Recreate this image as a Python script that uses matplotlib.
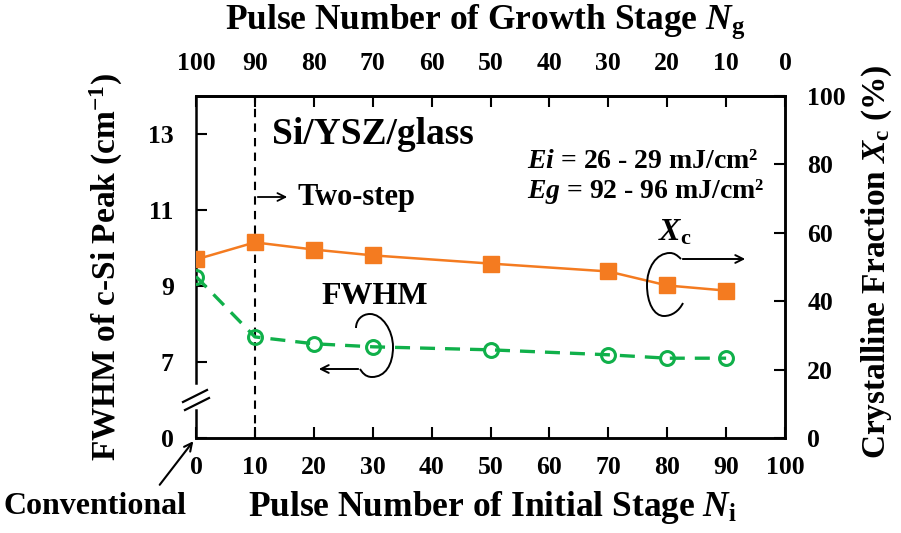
import matplotlib
matplotlib.use('Agg')
import matplotlib.pyplot as plt
from matplotlib.path import Path
from matplotlib.patches import PathPatch
import numpy as np

plt.rcParams['font.family'] = 'Liberation Serif'
plt.rcParams['font.weight'] = 'bold'
plt.rcParams['mathtext.fontset'] = 'custom'
plt.rcParams['mathtext.rm'] = 'Liberation Serif:bold'
plt.rcParams['mathtext.it'] = 'Liberation Serif:italic:bold'
plt.rcParams['mathtext.bf'] = 'Liberation Serif:bold'

# data
n_initial = [0, 10, 20, 30, 50, 70, 80, 90]
fwhm = [9.25, 7.66, 7.48, 7.40, 7.32, 7.19, 7.10, 7.10]
xc = [52.2, 57.2, 55.1, 53.4, 51.0, 48.7, 44.6, 43.1]

x_ticks = [0, 10, 20, 30, 40, 50, 60, 70, 80, 90, 100]
fwhm_ticks = [5, 7, 9, 11, 13]
fwhm_tick_labels = ['0', '7', '9', '11', '13']
xc_ticks = [0, 20, 40, 60, 80, 100]

W, H = 901, 533
orange = '#F47B20'
green = '#10B04A'

fig = plt.figure(figsize=(W / 100, H / 100), dpi=100)
ax = fig.add_axes([196 / W, (H - 438) / H, 589 / W, 342 / H])
ax2 = ax.twinx()


def px(x, y):
    # image pixel -> figure fraction
    return (x / W, 1 - y / H)


# FWHM (left axis)
ax.plot(n_initial, fwhm, color=green, lw=2.4, ls=(0, (4.5, 3)), marker='o', ms=10,
        mfc='none', mec=green, mew=2.2, zorder=3)
# Xc (right axis)
ax2.plot(n_initial, xc, color=orange, lw=1.8, marker='s', ms=11, mfc=orange,
         mec=orange, zorder=4)

ax.set_xlim(0, 100)
ax.set_ylim(5, 14)
ax2.set_ylim(0, 100)
ax.set_xticks(x_ticks)
ax.set_yticks(fwhm_ticks)
ax.set_yticklabels(fwhm_tick_labels)
ax2.set_yticks(xc_ticks)

sec = ax.secondary_xaxis('top', functions=(lambda x: 100 - x, lambda x: 100 - x))
sec.set_xticks(x_ticks)

for a in (ax, ax2):
    for s in a.spines.values():
        s.set_linewidth(1.8)
    a.spines['left'].set_visible(False)
ax.tick_params(axis='x', direction='in', length=8, width=1.5, labelsize=18.5, pad=13)
ax.tick_params(axis='y', direction='in', length=8, width=1.5, labelsize=18.5, pad=16)
ax2.tick_params(axis='y', direction='in', length=8, width=1.5, labelsize=18.5, pad=16)
sec.tick_params(direction='in', length=8, width=1.5, labelsize=18.5, pad=15)
sec.spines['top'].set_linewidth(1.8)

# broken left spine
ax.plot([0, 0], [0, 0.082], transform=ax.transAxes, color='k', lw=1.8, clip_on=False)
ax.plot([0, 0], [0.161, 1], transform=ax.transAxes, color='k', lw=1.8, clip_on=False)
for (x0, y0, x1, y1) in [(183, 402, 207, 390), (185, 410, 209, 398)]:
    fig.add_artist(plt.Line2D([x0 / W, x1 / W], [1 - y0 / H, 1 - y1 / H], color='k', lw=1.6))

# start of two-step
ax.axvline(10, color='k', lw=1.5, ls=(0, (4, 3)), zorder=1)

# axis titles
fig.text(*px(485, 22), r'Pulse Number of Growth Stage $N_\mathrm{g}$', fontsize=25.5,
         ha='center', va='center')
fig.text(*px(493, 508), r'Pulse Number of Initial Stage $N_\mathrm{i}$', fontsize=25.5,
         ha='center', va='center')
fig.text(*px(106, 267), r'FWHM of c-Si Peak (cm$^{-1}$)', fontsize=24, rotation=90,
         ha='center', va='center')
fig.text(*px(877, 262), r'Crystalline Fraction $X_\mathrm{c}$ (%)', fontsize=24, rotation=90,
         ha='center', va='center')

# annotations
fig.text(*px(272, 135), 'Si/YSZ/glass', fontsize=27, ha='left', va='center')
fig.text(*px(297, 198), 'Two-step', fontsize=22, ha='left', va='center')
fig.add_artist(matplotlib.patches.FancyArrowPatch(px(255, 197), px(290, 197),
               transform=fig.transFigure, arrowstyle='->', mutation_scale=14, lw=1.3, color='k'))
fig.text(*px(527, 162), r'$Ei$ = 26 - 29 mJ/cm²', fontsize=20, ha='left', va='center')
fig.text(*px(527, 192), r'$Eg$ = 92 - 96 mJ/cm²', fontsize=20, ha='left', va='center')
fig.text(*px(675, 233), r'$X_\mathrm{c}$', fontsize=23, ha='center', va='center')
fig.text(*px(375, 297), 'FWHM', fontsize=23, ha='center', va='center')
fig.text(*px(95, 506), 'Conventional', fontsize=23, ha='center', va='center')
fig.add_artist(matplotlib.patches.FancyArrowPatch(px(158, 487), px(195, 439),
               transform=fig.transFigure, arrowstyle='->', mutation_scale=14, lw=1.5, color='k'))

# curl arrows
def curl(points):
    verts = [px(*p) for p in points]
    codes = [Path.MOVETO] + [Path.CURVE4] * (len(verts) - 1)
    fig.add_artist(PathPatch(Path(verts, codes), transform=fig.transFigure, fc='none',
                             ec='k', lw=1.4))


curl([(356, 328), (356, 320), (362, 314), (370, 314),
      (382, 314), (393, 330), (393, 347),
      (393, 365), (385, 377), (372, 377),
      (365, 377), (362, 372), (360, 369)])
fig.add_artist(matplotlib.patches.FancyArrowPatch(px(361, 369), px(316, 369),
               transform=fig.transFigure, arrowstyle='->', mutation_scale=14, lw=1.4, color='k'))

curl([(681, 259), (677, 255), (674, 253), (670, 253),
      (656, 253), (647, 268), (647, 285),
      (647, 303), (654, 316), (664, 316),
      (672, 316), (679, 311), (683, 303)])
fig.add_artist(matplotlib.patches.FancyArrowPatch(px(680, 259), px(748, 259),
               transform=fig.transFigure, arrowstyle='->', mutation_scale=14, lw=1.4, color='k'))

fig.savefig('out.png', dpi=100)
